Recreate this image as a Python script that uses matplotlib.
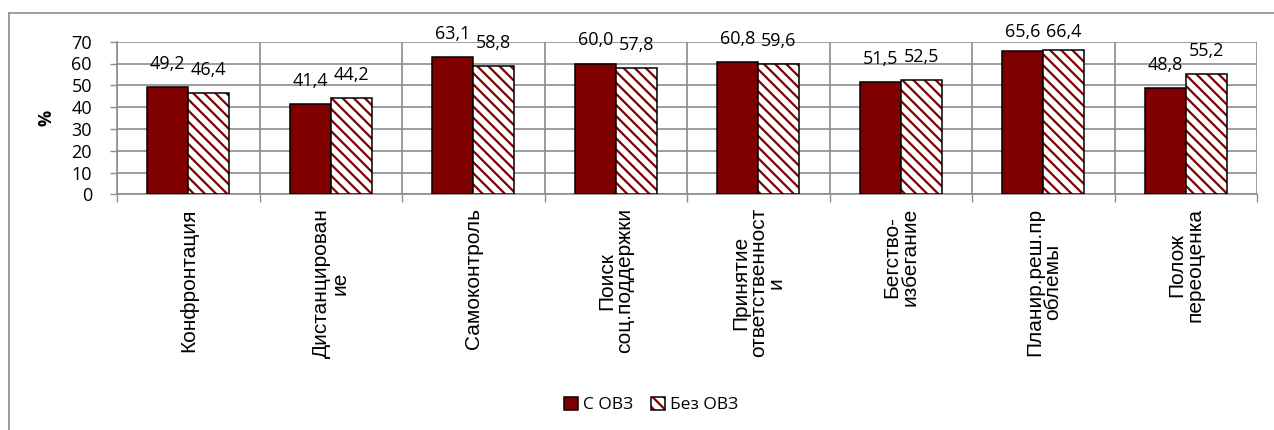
import matplotlib
matplotlib.use("Agg")
import matplotlib.pyplot as plt
import numpy as np
from matplotlib.lines import Line2D
from matplotlib.patches import Patch
from matplotlib.legend_handler import HandlerTuple

categories = ["Конфронтация", "Дистанцирован\nие", "Самоконтроль", "Поиск\nсоц.поддержки",
              "Принятие\nответственност\nи", "Бегство-\nизбегание", "Планир.реш.пр\nоблемы",
              "Полож\nпереоценка"]
s_ovz = [49.2, 41.4, 63.1, 60.0, 60.8, 51.5, 65.6, 48.8]
bez_ovz = [46.4, 44.2, 58.8, 57.8, 59.6, 52.5, 66.4, 55.2]
series_names = ["С ОВЗ", "Без ОВЗ"]
yticks = [0, 10, 20, 30, 40, 50, 60, 70]

DARK = "#800000"
GRID = "#8c8c8c"
NUMFONT = "Open Sans"
CATFONT = "Liberation Sans"
HATCH = "\\\\\\"

plt.rcParams['hatch.linewidth'] = 1.6

fig = plt.figure(figsize=(12.74, 4.30), dpi=100)
W, H = 1274, 430
ax = fig.add_axes([117 / W, (H - 194.3) / H, 1140 / W, 152.6 / H])

x = np.arange(len(categories))
bw = 0.288
b1 = ax.bar(x - bw / 2, s_ovz, bw, color=DARK, edgecolor="black", linewidth=1.1, zorder=3)
b2 = ax.bar(x + bw / 2, bez_ovz, bw, color="white", edgecolor=DARK, linewidth=0,
            hatch=HATCH, zorder=3)
ax.bar(x + bw / 2, bez_ovz, bw, fill=False, edgecolor="black", linewidth=1.1, zorder=4)

for bars, vals in ((b1, s_ovz), (b2, bez_ovz)):
    for rect, v in zip(bars, vals):
        ly = min(v + 10.6, 74.4)
        ax.text(rect.get_x() + rect.get_width() / 2, ly, f"{v:.1f}".replace(".", ","),
                ha="center", va="center", fontsize=13, family=NUMFONT, clip_on=False,
                zorder=5)

ax.set_xlim(-0.5, len(categories) - 0.5)
ax.set_ylim(0, 70)
ax.set_yticks(yticks)
ax.set_yticklabels([str(t) for t in yticks], family=NUMFONT, fontsize=13)
ax.tick_params(axis="y", length=5, width=1, color=GRID, pad=13)

ax.set_xticks(x)
ax.set_xticklabels(categories, rotation=90, ha="center", va="top", multialignment="center",
                   family=CATFONT, fontsize=15, linespacing=0.92)
ax.set_xticks(np.arange(-0.5, len(categories)), minor=True)
ax.tick_params(axis="x", which="major", length=0, pad=10)
ax.tick_params(axis="x", which="minor", length=6, width=1, color=GRID)

ax.grid(axis="y", which="major", color=GRID, linewidth=1.2, zorder=0)
ax.grid(axis="x", which="minor", color=GRID, linewidth=1.2, zorder=0)
ax.grid(axis="x", which="major", visible=False)

for side in ("top", "right"):
    ax.spines[side].set_visible(False)
ax.spines["left"].set_color(GRID)
ax.spines["bottom"].set_color(GRID)
ax.spines["left"].set_linewidth(1.2)
ax.spines["bottom"].set_linewidth(1.2)

ax.set_ylabel("%", fontsize=13, fontweight="bold", family=NUMFONT)
ax.yaxis.set_label_coords((55 - 117) / 1140, 0.5)

h1 = Patch(facecolor=DARK, edgecolor="black", linewidth=1.1)
h2 = (Patch(facecolor="white", edgecolor=DARK, linewidth=0, hatch=HATCH),
      Patch(fill=False, edgecolor="black", linewidth=1.1))
fig.legend([h1, h2], series_names, loc="center", bbox_to_anchor=(651 / W, 1 - 405 / H),
           ncol=2, frameon=False, prop={"family": NUMFONT, "size": 12.5},
           handlelength=0.8, handleheight=0.8, handletextpad=0.3, columnspacing=1.0,
           handler_map={tuple: HandlerTuple(ndivide=1, pad=0)})

# outer chart border
fig.add_artist(Line2D([9 / W, 9 / W], [0, 1 - 12.7 / H], color=GRID, linewidth=1.2,
                      transform=fig.transFigure))
fig.add_artist(Line2D([9 / W, 1], [1 - 12.7 / H, 1 - 12.7 / H], color=GRID, linewidth=1.2,
                      transform=fig.transFigure))

fig.savefig("out.png", dpi=100)
